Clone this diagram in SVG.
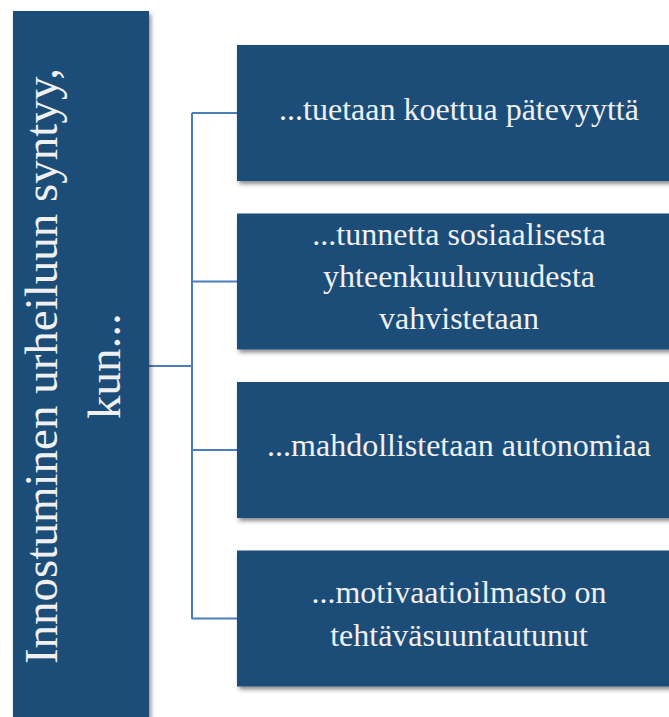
<svg xmlns="http://www.w3.org/2000/svg" width="669" height="717" viewBox="0 0 669 717">
<defs>
<filter id="sh" x="-10%" y="-10%" width="130%" height="130%">
<feDropShadow dx="2" dy="3" stdDeviation="2.2" flood-color="#000" flood-opacity="0.45"/>
</filter>
</defs>
<style>
.box{fill:#1F4E79;filter:url(#sh);}
.t{font-family:"Liberation Serif","Times New Roman",serif;font-size:32px;fill:#F0F0F0;text-anchor:middle;}
.tl{font-family:"Liberation Serif","Times New Roman",serif;font-size:47px;fill:#F0F0F0;text-anchor:middle;}
.c{fill:none;stroke:#4A7EBB;stroke-width:2;}
</style>
<rect width="669" height="717" fill="#FFFFFF"/>
<g id="connectors">
<path class="c" d="M149,366 H192 M192,113 V619 M192,113 H237 M192,281.5 H237 M192,450 H237 M192,618.5 H237"/>
</g>
<g id="root">
<rect class="box" x="13" y="11" width="136" height="720"/>
<text class="tl" transform="translate(57,366) rotate(-90)">Innostuminen urheiluun syntyy,</text>
<text class="tl" transform="translate(119.5,366) rotate(-90)">kun...</text>
</g>
<g id="n1">
<rect class="box" x="237" y="45" width="444" height="136"/>
<text class="t" x="459" y="119.5">...tuetaan koettua pätevyyttä</text>
</g>
<g id="n2">
<rect class="box" x="237" y="213.5" width="444" height="136"/>
<text class="t" x="459" y="245">...tunnetta sosiaalisesta</text>
<text class="t" x="459" y="287">yhteenkuuluvuudesta</text>
<text class="t" x="459" y="329">vahvistetaan</text>
</g>
<g id="n3">
<rect class="box" x="237" y="382" width="444" height="136"/>
<text class="t" x="459" y="456">...mahdollistetaan autonomiaa</text>
</g>
<g id="n4">
<rect class="box" x="237" y="550.5" width="444" height="136"/>
<text class="t" x="459" y="603">...motivaatioilmasto on</text>
<text class="t" x="459" y="646">tehtäväsuuntautunut</text>
</g>
</svg>
